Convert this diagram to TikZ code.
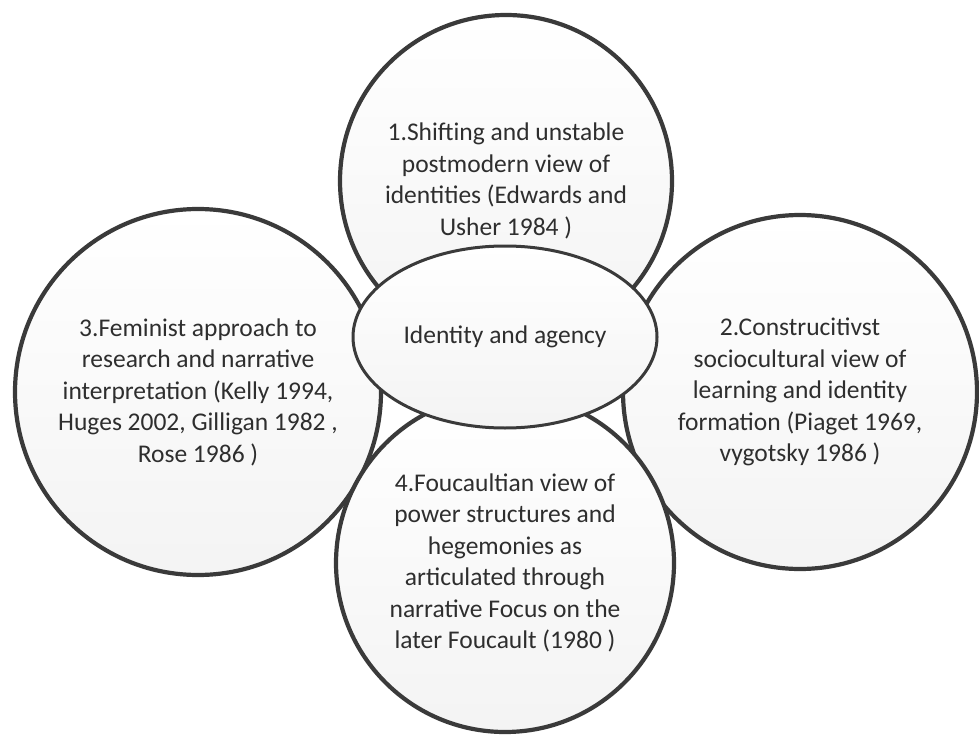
\documentclass[tikz,border=0pt]{standalone}
\usepackage{fontspec}
\setmainfont{Carlito}
\usetikzlibrary{shapes.geometric}
\definecolor{edge}{HTML}{3A3A3A}
\definecolor{ink}{HTML}{2E2E2E}
\tikzset{
  bubble/.style={circle, draw=edge, line width=4.2pt, inner sep=0pt,
    top color=white, bottom color=gray!9, align=center, text=ink,
    font=\fontsize{25.5}{31.5}\selectfont},
  hub/.style={ellipse, draw=edge, line width=3pt, inner sep=0pt,
    top color=white, bottom color=gray!9, align=center, text=ink,
    font=\fontsize{25.5}{31.5}\selectfont}
}
\begin{document}
\begin{tikzpicture}[x=1pt,y=-1pt]
\useasboundingbox (0,0) rectangle (979,738);
\node[bubble, minimum size=332pt] (top) at (506,181)
  {1.Shifting and unstable\\postmodern view of\\identities (Edwards and\\Usher 1984 )};
\node[bubble, minimum size=366pt] (left) at (198,392)
  {3.Feminist approach to\\research and narrative\\interpretation (Kelly 1994,\\Huges 2002, Gilligan 1982 ,\\Rose 1986 )};
\node[bubble, minimum size=354pt] (right) at (800,392)
  {2.Construcitivst\\sociocultural view of\\learning and identity\\formation (Piaget 1969,\\vygotsky 1986 )};
\node[bubble, minimum size=338pt] (bottom) at (505,563)
  {4.Foucaultian view of\\power structures and\\hegemonies as\\articulated through\\narrative Focus on the\\later Foucault (1980 )};
\node[hub, minimum width=304pt, minimum height=182pt] (hubnode) at (505,337)
  {Identity and agency};
\end{tikzpicture}
\end{document}
